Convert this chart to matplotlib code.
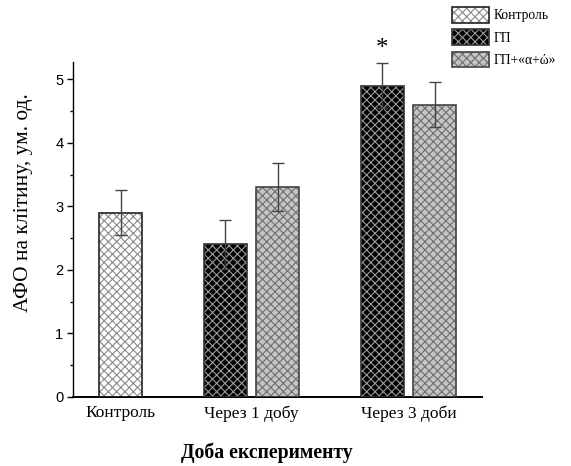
import numpy as np
import matplotlib
matplotlib.use("Agg")
import matplotlib.pyplot as plt
from matplotlib.patches import Patch
from matplotlib.legend_handler import HandlerTuple

# data
categories = ["Контроль", "Через 1 добу", "Через 3 доби"]
series_names = ["Контроль", "ГП", "ГП+«α+ώ»"]
# values per series for each category (None = no bar)
control_vals = [2.9, None, None]
control_err = [0.35, None, None]
gp_vals = [None, 2.4, 4.9]
gp_err = [None, 0.38, 0.35]
gpa_vals = [None, 3.3, 4.6]
gpa_err = [None, 0.38, 0.35]
star_category = 2  # "*" over ГП, Через 3 доби

# layout
cat_pos = np.array([0.0, 1.0, 2.2])
bar_w = 0.33
offset = 0.2

serif = "Liberation Serif"
sans = "Liberation Sans"
plt.rcParams["hatch.linewidth"] = 0.8
HATCH = "xxxx"

fills = ["white", "black", "#c4c4c4"]
hatch_cols = ["#8a8a8a", "#9a9a9a", "#6e6e6e"]
edge_cols = ["#222222", "#333333", "#444444"]

fig = plt.figure(figsize=(5.71, 4.66), dpi=100)
ax = fig.add_axes([73/571, 1-397/466, 409/571, 335/466])

def draw(vals, errs, xs, k):
    for x, v, e in zip(xs, vals, errs):
        if v is None:
            continue
        ax.bar(x, v, bar_w, color=fills[k], edgecolor=hatch_cols[k], hatch=HATCH, linewidth=0, zorder=2)
        ax.bar(x, v, bar_w, fill=False, edgecolor=edge_cols[k], linewidth=1.2, zorder=3)
        ax.errorbar(x, v, yerr=e, fmt="none", ecolor="#444444", elinewidth=1.0, capsize=4, capthick=1.0, zorder=4)

draw(control_vals, control_err, cat_pos, 0)
draw(gp_vals, gp_err, cat_pos - offset * (cat_pos > 0), 1)
draw(gpa_vals, gpa_err, cat_pos + offset * (cat_pos > 0), 2)

xs_star = cat_pos[star_category] - offset
ax.text(xs_star, gp_vals[star_category] + gp_err[star_category] + 0.22, "*", ha="center", va="center",
        fontsize=18, family=serif, clip_on=False)

ax.set_xlim(-0.363, 2.76)
ax.set_ylim(0, 5.27)
ax.spines["top"].set_visible(False)
ax.spines["right"].set_visible(False)
ax.spines["left"].set_linewidth(1.0)
ax.spines["bottom"].set_linewidth(1.4)

ax.set_yticks([0, 1, 2, 3, 4, 5])
ax.set_yticks(np.arange(0.5, 5.1, 1.0), minor=True)
ax.tick_params(axis="y", which="major", length=4, width=1, pad=3, labelsize=10.5)
ax.tick_params(axis="y", which="minor", length=2.5, width=1)
for lab in ax.get_yticklabels():
    lab.set_family(sans)

ax.set_xticks(cat_pos)
ax.set_xticklabels(categories, family=serif, fontsize=12.5)
ax.tick_params(axis="x", length=0, pad=6)

ax.set_ylabel("АФО на клітину, ум. од.", family=serif, fontsize=15.4, va="center")
ax.yaxis.set_label_coords(-0.122, 0.579)
ax.set_xlabel("Доба експерименту", family=serif, fontsize=14.2, fontweight="bold", va="center")
ax.xaxis.set_label_coords(0.474, -0.167)

handles = [(Patch(facecolor=fills[k], edgecolor=hatch_cols[k], hatch=HATCH, linewidth=0),
            Patch(fill=False, edgecolor=edge_cols[k], linewidth=1.2)) for k in range(3)]
leg = fig.legend(handles, series_names, loc="upper left", bbox_to_anchor=(452/571, 1-7/466),
                 handler_map={tuple: HandlerTuple(ndivide=1, pad=0)},
                 frameon=False, prop={"family": serif, "size": 9.8}, handlelength=2.7, handleheight=1.4,
                 labelspacing=0.48, handletextpad=0.35, borderpad=0, borderaxespad=0)

fig.savefig("out.png", dpi=100)
